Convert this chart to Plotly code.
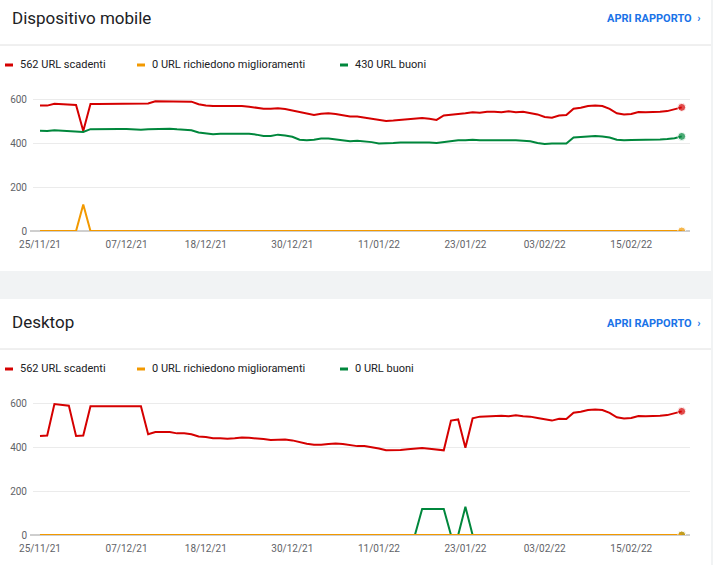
import pandas as pd
import plotly.graph_objects as go

dates = pd.date_range("2021-11-25", periods=90)
tick_dates = ["2021-11-25", "2021-12-07", "2021-12-18", "2021-12-30", "2022-01-11", "2022-01-23", "2022-02-03", "2022-02-15"]
tick_text = ["25/11/21", "07/12/21", "18/12/21", "30/12/21", "11/01/22", "23/01/22", "03/02/22", "15/02/22"]

mobile_poor = [570,570,578,576,575,573, 455,
               577,577,577,577,577,577,578, 580,580,
               590,590,590,588,588,588,
               576,570,568,568,568,570,568,565,
               560,556,556,558,555,548,540,533,
               527,533,535,532,525,520,520,
               515,512,505,500,502,505,510,512,
               514,510,505,525,530,532,535,
               540,538,542,542,540,544,540,542,
               535,530,518,515,525,
               527,556,560,568,571,568,555,
               535,530,532,541,540,540,
               542,545,555,562]
mobile_good = [456,455,458,456,452,450, 450,
               463,464,464,464,464,464,462, 460,462,
               464,465,465,462,460,458,
               448,444,440,442,442,442,440,442,
               438,432,432,438,434,428,415,412,
               415,420,420,416,410,408,410,
               408,404,398,398,400,402,402,405,
               405,402,400,405,410,412,412,
               415,413,413,414,413,413,412,410,
               408,400,396,398,398,
               398,425,428,432,432,430,425,
               415,412,414,414,415,415,
               416,418,422,430]
mobile_ni = [0]*6 + [120] + [0]*83

desktop_poor = [450,452,595,590,588,450, 452,
                585,585,585,585,585,585,585, 585,458,
                468,468,468,462,462,458,
                448,445,440,440,438,440,443,442,
                440,436,432,432,434,430,422,415,
                410,410,414,416,414,408,404,
                404,400,393,385,385,386,390,393,
                395,392,387,385,520,525,397,
                530,538,540,540,542,540,544,540,
                538,532,525,520,528,
                527,556,560,568,571,568,555,
                535,530,532,541,540,540,
                542,545,555,562]
desktop_good = [0]*53 + [118,118,118,118] + [0,0] + [128] + [0]*30
desktop_ni = [0]*90

legend_mobile = ["562 URL scadenti", "0 URL richiedono miglioramenti", "430 URL buoni"]
legend_desktop = ["562 URL scadenti", "0 URL richiedono miglioramenti", "0 URL buoni"]

RED, ORANGE, GREEN = "#d50000", "#f29900", "#00873c"
W, H = 713, 565
def py(y): return 1 - y / H
def px(x): return x / W

fig = go.Figure()
n = len(dates)
def add(series, color, xa, ya):
    fig.add_trace(go.Scatter(x=dates, y=series, mode="lines+markers",
        line=dict(color=color, width=2), marker=dict(size=[0]*(n-1)+[8], color=color),
        xaxis=xa, yaxis=ya, showlegend=False, hoverinfo="skip"))

for xa, ya, s in [("x", "y", (mobile_poor, mobile_good, mobile_ni)),
                  ("x2", "y2", (desktop_poor, desktop_good, desktop_ni))]:
    add(s[0], RED, xa, ya); add(s[1], GREEN, xa, ya); add(s[2], ORANGE, xa, ya)

x0 = dates[0] - pd.Timedelta(days=0.97)
x1 = dates[0] + pd.Timedelta(days=90.15)
xax = dict(range=[x0, x1], tickvals=tick_dates, ticktext=tick_text, showgrid=False, automargin=False,
           zeroline=False, showline=False, ticks="", ticklabelstandoff=6,
           tickfont=dict(size=10, color="#5f6368"))
yax = dict(range=[0, 640], tickvals=[0, 200, 400, 600], showgrid=True, gridcolor="#ebebeb", automargin=False,
           zeroline=False, showline=False, ticks="", ticklabelstandoff=5,
           tickfont=dict(size=10, color="#5f6368"))

shapes = []
def card(y0, y1):
    shapes.append(dict(type="rect", xref="paper", yref="paper", x0=0, x1=px(711),
                       y0=py(y1), y1=py(y0), fillcolor="white", line=dict(width=0), layer="below"))
card(0, 271); card(299, 566)
for y in (45, 349):
    shapes.append(dict(type="line", xref="paper", yref="paper", x0=0, x1=px(711), y0=py(y), y1=py(y),
                       line=dict(color="#e0e0e0", width=1)))
for y in (231, 535):
    shapes.append(dict(type="line", xref="paper", yref="paper", x0=px(30), x1=px(690), y0=py(y), y1=py(y),
                       line=dict(color="#9e9e9e", width=1), layer="below"))

annotations = []
for ty, title, leg in [(18, "Dispositivo mobile", legend_mobile), (322, "Desktop", legend_desktop)]:
    annotations.append(dict(text=title, x=px(10), y=py(ty), xref="paper", yref="paper", xanchor="left",
                            yanchor="middle", showarrow=False, font=dict(size=17, color="#202124", family="Roboto")))
    annotations.append(dict(text="<b>APRI RAPPORTO</b>  <b>›</b>", x=px(702), y=py(ty+1), xref="paper", yref="paper",
                            xanchor="right", yanchor="middle", showarrow=False,
                            font=dict(size=11, color="#1a73e8", family="Roboto")))
    ly = ty + 47
    for lx, label, col in zip((5, 137, 340), leg, (RED, ORANGE, GREEN)):
        shapes.append(dict(type="line", xref="paper", yref="paper", x0=px(lx), x1=px(lx+8),
                           y0=py(ly), y1=py(ly), line=dict(color=col, width=3)))
        annotations.append(dict(text=label, x=px(lx+13), y=py(ly), xref="paper", yref="paper",
                                xanchor="left", yanchor="middle", showarrow=False,
                                font=dict(size=11, color="#202124", family="Roboto")))

fig.update_layout(
    width=W, height=H, margin=dict(l=0, r=0, t=0, b=0, autoexpand=False),
    paper_bgcolor="#f1f3f4", plot_bgcolor="rgba(0,0,0,0)",
    font=dict(family="Roboto"),
    xaxis=dict(domain=[px(33), px(690)], anchor="y", **xax),
    yaxis=dict(domain=[py(231), py(90.2)], anchor="x", **yax),
    xaxis2=dict(domain=[px(33), px(690)], anchor="y2", **xax),
    yaxis2=dict(domain=[py(535), py(394.2)], anchor="x2", **yax),
    shapes=shapes, annotations=annotations,
)
fig.write_html("out.html", config={"displayModeBar": False},
               post_script="document.body.style.margin='0';document.body.style.overflow='hidden';")
